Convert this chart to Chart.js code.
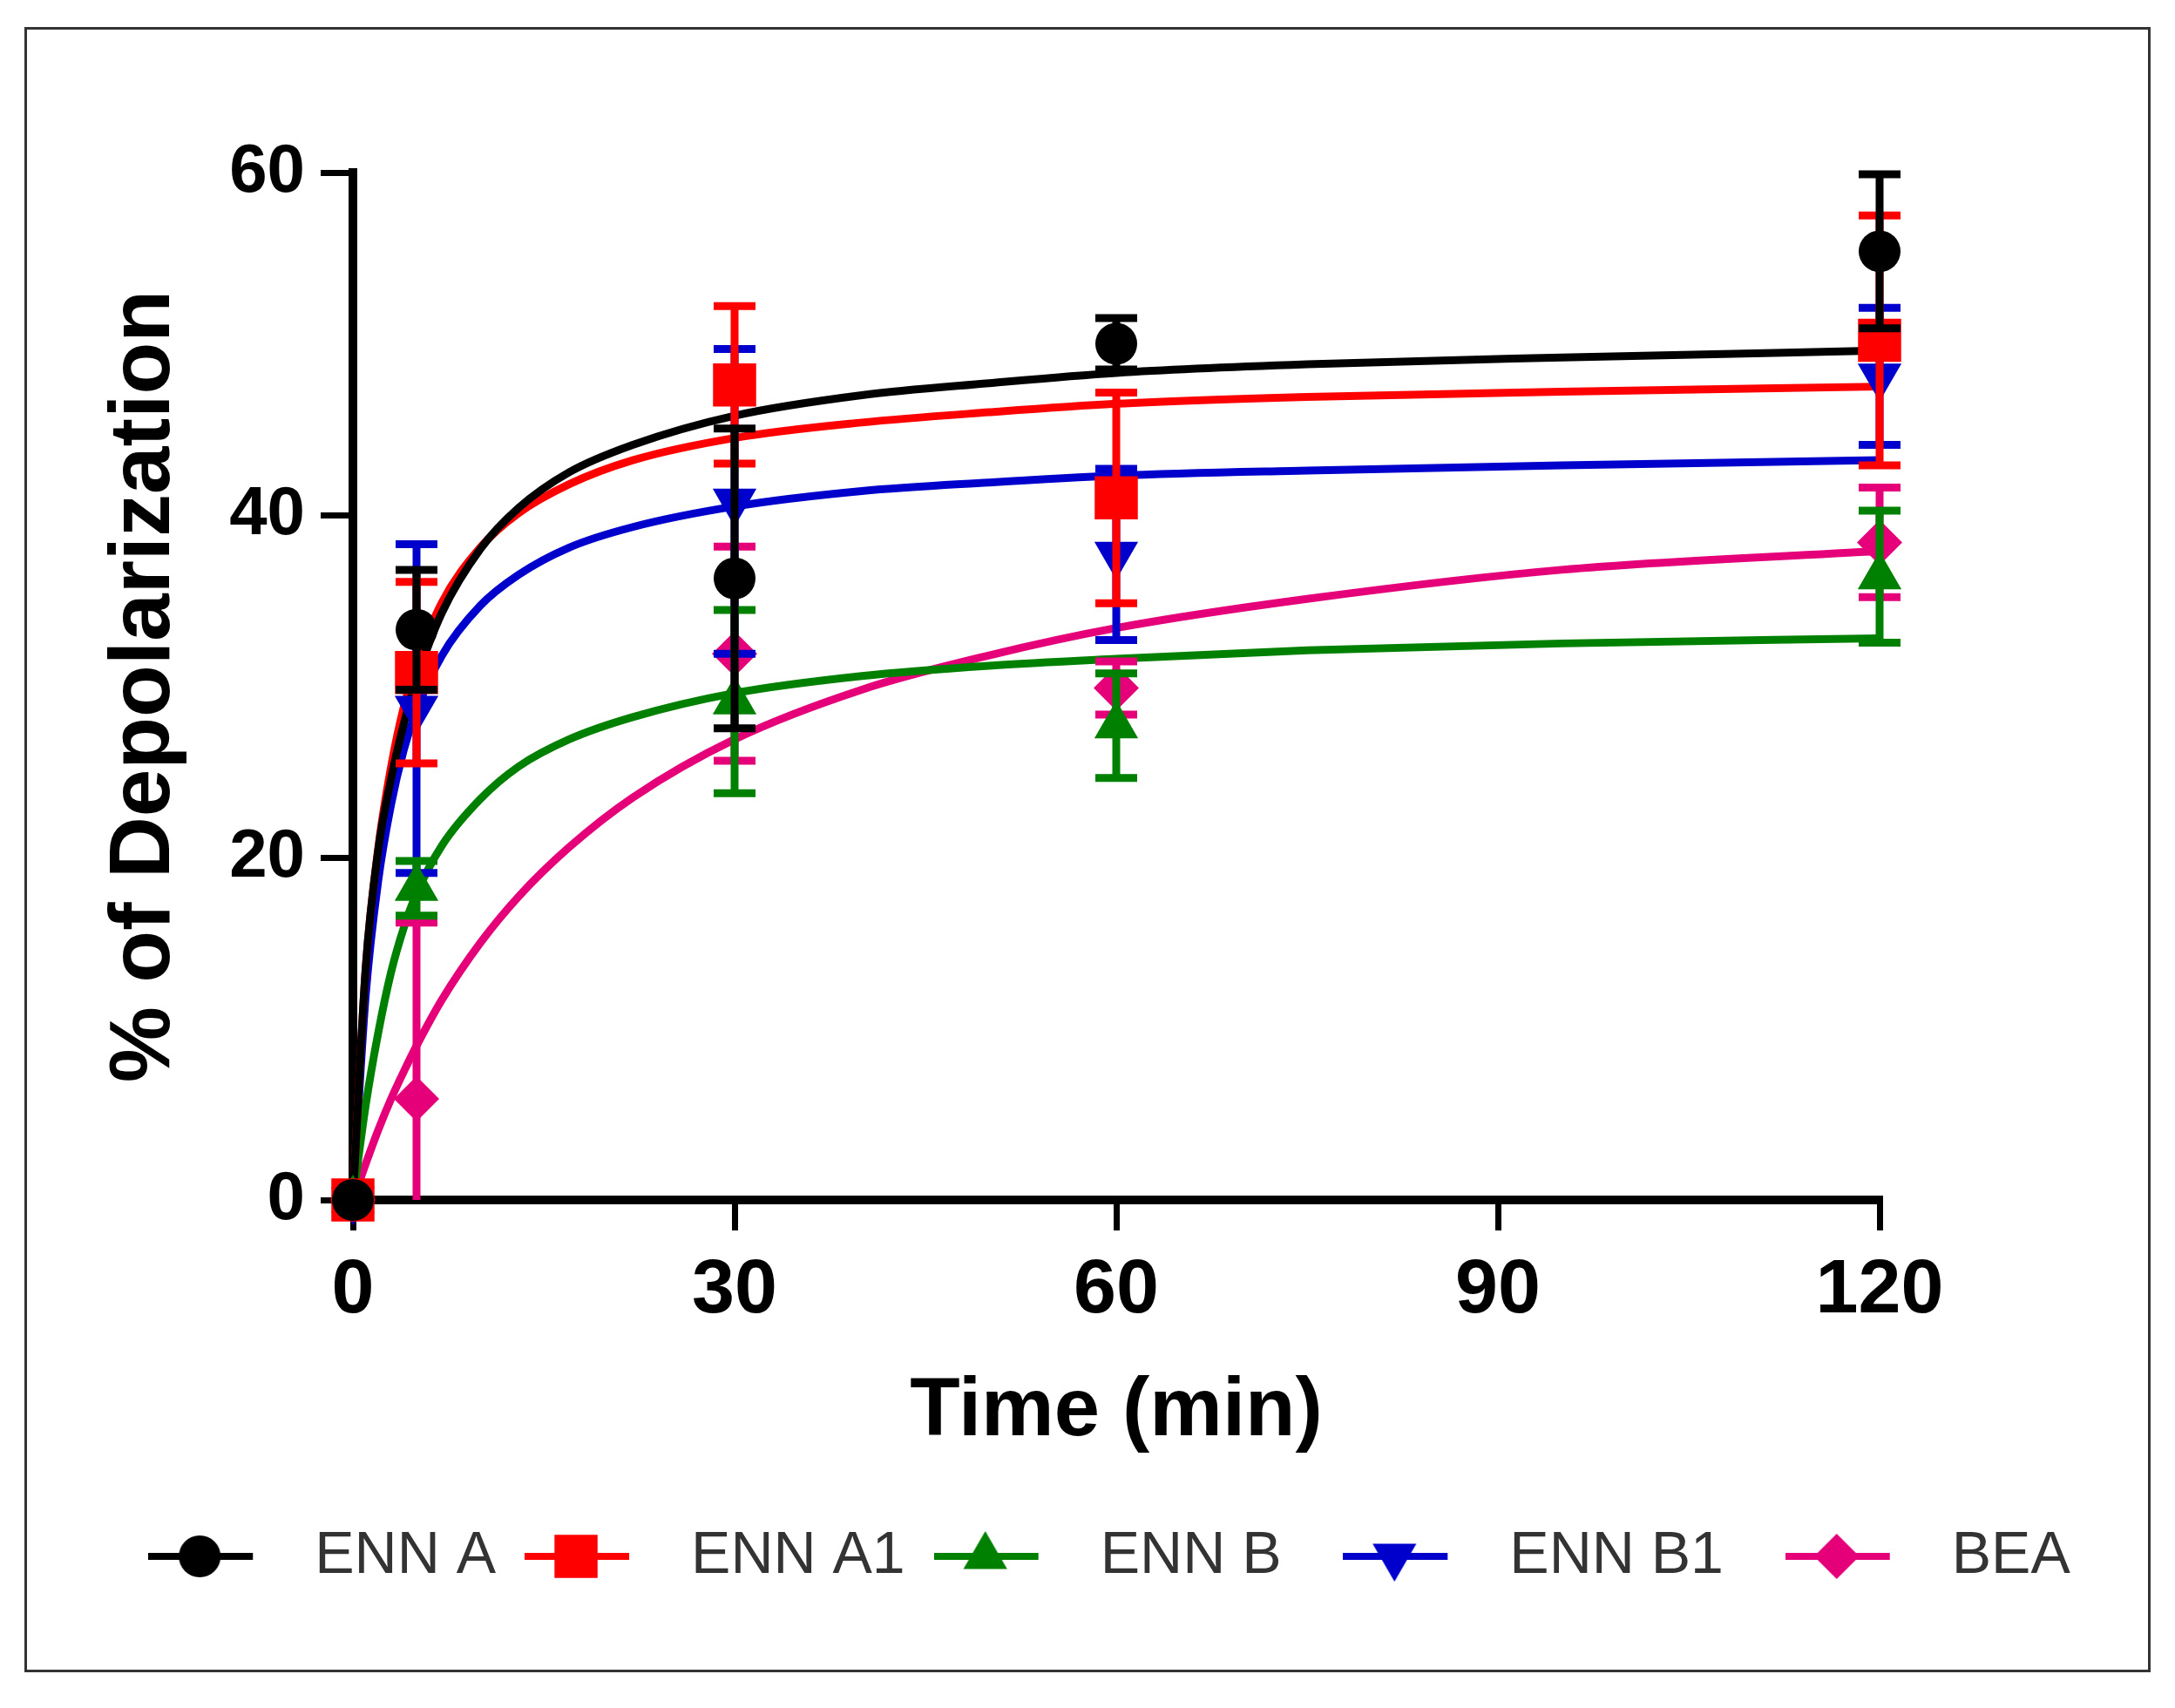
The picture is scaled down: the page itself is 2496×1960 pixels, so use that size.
<!DOCTYPE html>
<html>
<head>
<meta charset="utf-8">
<script src="https://cdn.jsdelivr.net/npm/chart.js@4.4.1/dist/chart.umd.min.js"></script>
<style>
html,body{margin:0;padding:0;background:#ffffff;}
canvas{display:block;}
</style>
</head>
<body>
<canvas id="c" width="2496" height="1960" style="width:2496px;height:1960px"></canvas>
<script>
// ---------------- data ----------------
const seriesNames = ['ENN A', 'ENN A1', 'ENN B', 'ENN B1', 'BEA'];
const times = [0, 5, 30, 60, 120];

const ennA     = [0, 33.3, 36.3, 50.0, 55.4];
const ennA_sd  = [0, 3.5, 8.75, 1.5, 4.5];
const ennA1    = [0, 30.8, 47.6, 41.0, 50.2];
const ennA1_sd = [0, 5.3, 4.6, 6.15, 7.3];
const ennB     = [0, 18.2, 29.1, 27.7, 36.4];
const ennB_sd  = [0, 1.6, 5.35, 3.05, 3.85];
const ennB1    = [0, 28.7, 40.8, 37.7, 48.1];
const ennB1_sd = [0, 9.6, 8.9, 5.0, 4.0];
const bea      = [0, 5.9, 31.9, 29.9, 38.4];
const bea_sd   = [0, 10.3, 6.25, 1.55, 3.2];

// fitted curves, values
const fitTimes = [0, 1, 2, 3, 4, 5, 7, 10, 13, 17, 22, 30, 40, 50, 60, 75, 95, 120];
const fitEnnA  = [0, 13.5, 20.5, 24.6, 27.8, 30.4, 34.3, 38.0, 40.4, 42.5, 44.1, 45.8, 47.0, 47.7, 48.3, 48.8, 49.2, 49.6];
const fitEnnA1 = [0, 13.5, 20.6, 25.3, 28.8, 31.3, 34.9, 38.1, 40.1, 41.8, 43.2, 44.5, 45.4, 46.0, 46.5, 46.9, 47.2, 47.5];
const fitEnnB  = [0, 5.5, 9.8, 13.3, 15.9, 17.9, 20.7, 23.4, 25.3, 26.9, 28.2, 29.6, 30.6, 31.2, 31.6, 32.1, 32.5, 32.8];
const fitEnnB1 = [0, 11.9, 18.7, 23.1, 26.3, 28.6, 31.8, 34.7, 36.5, 38.1, 39.3, 40.5, 41.4, 41.9, 42.3, 42.6, 42.9, 43.2];
const fitBea   = [0, 2.1, 4.1, 5.9, 7.5, 9.0, 11.7, 15.0, 17.7, 20.6, 23.5, 26.9, 29.8, 31.8, 33.4, 35.1, 36.8, 37.9];

const xTicks = [0, 30, 60, 90, 120];
const yTicks = [0, 20, 40, 60];

// ---------------- styles ----------------
const colors      = ['#000000', '#FF0000', '#008000', '#0000CC', '#E5007A'];
const pointStyles = ['circle', 'rect', 'triangle', 'triangle', 'rectRot'];
const pointRadii  = [24, 35, 29, 29, 26];
const pointRots   = [0, 0, 0, 180, 0];
const legendGap   = ['', '', '  ', '  ', ''];

const meanSets = [ennA, ennA1, ennB, ennB1, bea];
const sdSets   = [ennA_sd, ennA1_sd, ennB_sd, ennB1_sd, bea_sd];
const fitSets  = [fitEnnA, fitEnnA1, fitEnnB, fitEnnB1, fitBea];

// ---------------- datasets ----------------
const datasets = [];
meanSets.forEach((vals, i) => {
  datasets.push({
    type: 'scatter',
    label: seriesNames[i],
    data: times.map((t, k) => ({x: t, y: vals[k]})),
    errors: sdSets[i],
    errorColor: colors[i],
    pointStyle: pointStyles[i],
    pointRadius: pointRadii[i],
    pointHoverRadius: pointRadii[i],
    pointRotation: pointRots[i],
    backgroundColor: colors[i],
    borderColor: colors[i],
    pointBorderWidth: 0,
    showLine: false,
    clip: false,
    order: 0
  });
});
fitSets.forEach((vals, i) => {
  datasets.push({
    type: 'line',
    label: seriesNames[i] + ' fit',
    data: fitTimes.map((t, k) => ({x: t, y: vals[k]})),
    borderColor: colors[i],
    backgroundColor: colors[i],
    borderWidth: 9,
    pointRadius: 0,
    fill: false,
    cubicInterpolationMode: 'monotone',
    clip: false,
    order: 1
  });
});

// ---------------- plugins ----------------
const errorBarPlugin = {
  id: 'errorBars',
  beforeDatasetDraw(chart, args) {
    const ds = chart.data.datasets[args.index];
    if (!ds.errors) return;
    const xs = chart.scales.x, ys = chart.scales.y, ctx = chart.ctx;
    const capHalf = 24;
    ctx.save();
    ctx.strokeStyle = ds.errorColor;
    ctx.lineWidth = 9;
    ctx.lineCap = 'butt';
    ds.data.forEach((p, k) => {
      const e = ds.errors[k];
      if (!e) return;
      const px = xs.getPixelForValue(p.x);
      const hi = p.y + e, lo = p.y - e;
      const pHi = ys.getPixelForValue(hi);
      const pLo = ys.getPixelForValue(Math.max(lo, ys.min));
      ctx.beginPath();
      ctx.moveTo(px, pHi); ctx.lineTo(px, pLo);
      ctx.moveTo(px - capHalf, pHi); ctx.lineTo(px + capHalf, pHi);
      if (lo >= ys.min) { ctx.moveTo(px - capHalf, pLo); ctx.lineTo(px + capHalf, pLo); }
      ctx.stroke();
    });
    ctx.restore();
  }
};

const framePlugin = {
  id: 'frame',
  afterDraw(chart) {
    const ctx = chart.ctx;
    ctx.save();
    ctx.strokeStyle = '#333333';
    ctx.lineWidth = 3;
    ctx.strokeRect(29.5, 32.5, 2437, 1885);
    ctx.restore();
  }
};

function makeLegendIcon(i) {
  const c = document.createElement('canvas');
  c.width = 157; c.height = 72;
  const g = c.getContext('2d');
  g.strokeStyle = colors[i];
  g.lineWidth = 8;
  g.beginPath(); g.moveTo(0, 36); g.lineTo(120, 36); g.stroke();
  g.fillStyle = colors[i];
  if (Chart.helpers && Chart.helpers.drawPoint) {
    Chart.helpers.drawPoint(g, {pointStyle: pointStyles[i], radius: pointRadii[i], rotation: pointRots[i], borderWidth: 0}, 59, 36);
  } else {
    g.beginPath(); g.arc(59, 36, 24, 0, Math.PI * 2); g.fill();
  }
  return c;
}
const legendIcons = seriesNames.map((n, i) => makeLegendIcon(i));

// ---------------- chart ----------------
new Chart(document.getElementById('c'), {
  data: {datasets},
  options: {
    responsive: false,
    devicePixelRatio: 1,
    animation: false,
    events: [],
    layout: {padding: {left: 60, right: 10, top: 198, bottom: 130}},
    scales: {
      x: {
        type: 'linear',
        position: 'bottom',
        min: 0, max: 120,
        afterBuildTicks(s) { s.ticks = xTicks.map(v => ({value: v})); },
        afterFit(s) { s.height = 342; },
        grid: {display: true, drawOnChartArea: false, drawTicks: true, tickLength: 35, lineWidth: 7, tickWidth: 7, color: '#000', tickColor: '#000'},
        border: {display: true, width: 10, color: '#000'},
        ticks: {color: '#000', padding: 17, font: {family: 'Liberation Sans', weight: 'bold', size: 88}, maxRotation: 0, autoSkip: false},
        title: {display: true, text: 'Time (min)', color: '#000', font: {family: 'Liberation Sans', weight: 'bold', size: 94}, padding: {top: 0, bottom: 42}}
      },
      y: {
        type: 'linear',
        position: 'left',
        min: 0, max: 60,
        afterBuildTicks(s) { s.ticks = yTicks.map(v => ({value: v})); },
        afterFit(s) { s.width = 345; },
        grid: {display: true, drawOnChartArea: false, drawTicks: true, tickLength: 37, lineWidth: 7, tickWidth: 7, color: '#000', tickColor: '#000'},
        border: {display: true, width: 10, color: '#000'},
        ticks: {color: '#000', padding: 18, font: {family: 'Liberation Sans', weight: 'bold', size: 78}, autoSkip: false},
        title: {display: true, text: '% of Depolarization', color: '#000', font: {family: 'Liberation Sans', weight: 'bold', size: 98}, padding: {top: 48, bottom: 0}}
      },
      yR: {
        type: 'linear',
        position: 'right',
        display: true,
        grid: {display: false},
        border: {display: false},
        ticks: {display: false},
        afterFit(s) { s.width = 329; }
      }
    },
    plugins: {
      tooltip: {enabled: false},
      legend: {
        display: true,
        position: 'bottom',
        align: 'center',
        onClick: null,
        labels: {
          usePointStyle: true,
          pointStyleWidth: 157,
          padding: 33,
          color: '#333333',
          font: {family: 'Liberation Sans', size: 68},
          generateLabels() {
            return seriesNames.map((n, i) => ({
              text: n + legendGap[i],
              pointStyle: legendIcons[i],
              fillStyle: colors[i],
              strokeStyle: colors[i],
              lineWidth: 0,
              hidden: false,
              datasetIndex: i,
              fontColor: '#333333'
            }));
          }
        }
      }
    }
  },
  plugins: [errorBarPlugin, framePlugin]
});
</script>
</body>
</html>
